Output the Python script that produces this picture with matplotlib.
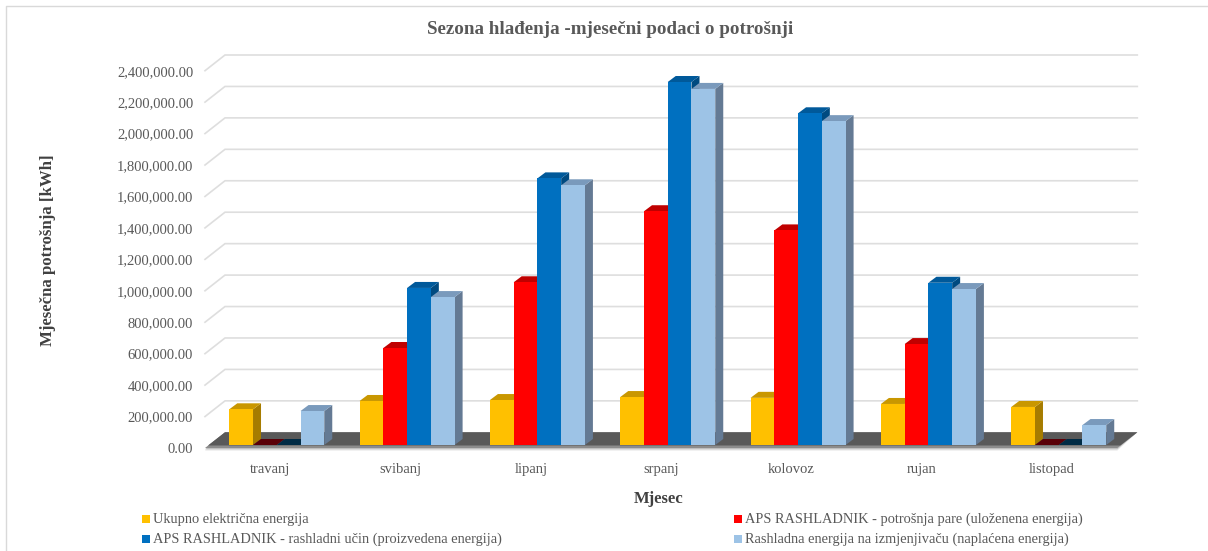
import matplotlib
matplotlib.use('Agg')
import matplotlib.pyplot as plt
from matplotlib.lines import Line2D
from matplotlib.patches import Rectangle

months = ['travanj', 'svibanj', 'lipanj', 'srpanj', 'kolovoz', 'rujan', 'listopad']
electricity = [227000, 280000, 286000, 305000, 300000, 261000, 242000]
steam = [0, 617000, 1035000, 1487000, 1365000, 642000, 0]
cooling = [0, 999000, 1696000, 2309000, 2110000, 1032000, 0]
exchanger = [216000, 941000, 1652000, 2265000, 2060000, 992000, 127000]
series_names = ['Ukupno električna energija',
                'APS RASHLADNIK - potrošnja pare (uloženena energija)',
                'APS RASHLADNIK - rashladni učin (proizvedena energija)',
                'Rashladna energija na izmjenjivaču (naplaćena energija)']
y_ticks = list(range(0, 2400001, 200000))

plt.rcParams['font.family'] = ['Liberation Serif', 'DejaVu Serif']

W, H = 1208, 551
px_x = 1 / 130.33          # one pixel in category units
px_y = 200000 / 31.44      # one pixel in kWh

front = ['#FFC000', '#FF0000', '#0070C0', '#9DC3E6']
top = ['#C99700', '#C00000', '#00599A', '#7A9ABC']
side = ['#A67C00', '#9E0000', '#004A80', '#647A94']
flat = [None, '#5A0008', '#002B45', None]

fig = plt.figure(figsize=(W / 100, H / 100), dpi=100)
fig.patch.set_facecolor('white')
# only left and top of the chart frame show in the picture
fig.add_artist(Line2D([5.5 / W, 5.5 / W, 1], [0, 1 - 6 / H, 1 - 6 / H], transform=fig.transFigure,
                      color='#D9D9D9', lw=1.0))
ax = fig.add_axes([205 / W, 1 - 448 / H, 912.3 / W, 377.3 / H])
ax.set_xlim(-0.5, 6.5)
ax.set_ylim(0, 2400000)
for s in ax.spines.values():
    s.set_visible(False)
ax.patch.set_visible(False)

# walls depth
dx = 20 * px_x
dy = 15.7 * px_y
x0, x1 = -0.5, 6.5

for v in y_ticks[1:]:
    ax.plot([x0, x0 + dx, x1 + dx], [v, v + dy, v + dy], color='#DEDEDE', lw=1.2,
            clip_on=False, zorder=1, solid_joinstyle='miter')

# floor with soft front edge
for i, c in enumerate(['#E8E8E8', '#BFBFBF', '#8C8C8C']):
    shift = (2 - i) * 1.3 * px_y
    ax.fill([x0, x1, x1 + dx, x0 + dx], [-shift, -shift, dy, dy], color=c, lw=0, clip_on=False, zorder=2)
ax.fill([x0 + 3 * px_x, x1 + 3 * px_x, x1 + dx, x0 + dx], [2.5 * px_y, 2.5 * px_y, dy, dy],
        color='#595959', lw=0, clip_on=False, zorder=2)

# bars
bar_w = 23.75 * px_x
bar_dx = 8 * px_x
bar_dy = 6 * px_y
base_x = 6.6 * px_x
base_y = 3 * px_y
values = [electricity, steam, cooling, exchanger]
z = 3
for m in range(len(months)):
    for k, vals in enumerate(values):
        v = vals[m]
        left = m + base_x + (k - 2) * bar_w
        right = left + bar_w
        y0 = base_y
        y1 = base_y + v
        if v == 0:
            ax.fill([left, right, right + bar_dx, left + bar_dx], [y0, y0, y0 + bar_dy, y0 + bar_dy],
                    color=flat[k], lw=0, clip_on=False, zorder=z)
            z += 1
            continue
        ax.fill([right, right + bar_dx, right + bar_dx, right], [y0, y0 + bar_dy, y1 + bar_dy, y1],
                color=side[k], lw=0, clip_on=False, zorder=z)
        ax.fill([left, right, right + bar_dx, left + bar_dx], [y1, y1, y1 + bar_dy, y1 + bar_dy],
                color=top[k], lw=0, clip_on=False, zorder=z)
        ax.bar(left, v, width=bar_w, bottom=base_y, align='edge', color=front[k], lw=0,
               clip_on=False, zorder=z + 0.5)
        z += 1

# axes text
ax.set_xticks(range(len(months)))
ax.set_xticklabels(months)
ax.set_yticks(y_ticks)
ax.set_yticklabels([f'{v:,.2f}' for v in y_ticks])
ax.tick_params(axis='x', length=0, pad=11, labelsize=10.5, labelcolor='#595959')
ax.tick_params(axis='y', length=0, pad=8.5, labelsize=10.5, labelcolor='#595959')

fig.text(610 / W, 1 - 29 / H, 'Sezona hlađenja -mjesečni podaci o potrošnji', ha='center', va='center',
         fontsize=13.7, fontweight='bold', color='#595959')
fig.text(659 / W, 1 - 499 / H, 'Mjesec', ha='center', va='center', fontsize=12,
         fontweight='bold', color='#404040')
fig.text(48 / W, 1 - 250 / H, 'Mjesečna potrošnja [kWh]', ha='center', va='center', rotation=90,
         fontsize=12.1, fontweight='bold', color='#404040')

# legend by hand, 2x2 grid
leg_pos = [(142, 519), (734, 519), (142, 539), (734, 539)]
for (lx, ly), c, name in zip(leg_pos, front, series_names):
    fig.add_artist(Rectangle((lx / W, 1 - (ly + 3.5) / H), 7.5 / W, 7.5 / H, transform=fig.transFigure,
                             fc=c, ec='none'))
    fig.text((lx + 11) / W, 1 - ly / H, name, ha='left', va='center', fontsize=10.35, color='#595959')

fig.savefig('out.png', dpi=100)
